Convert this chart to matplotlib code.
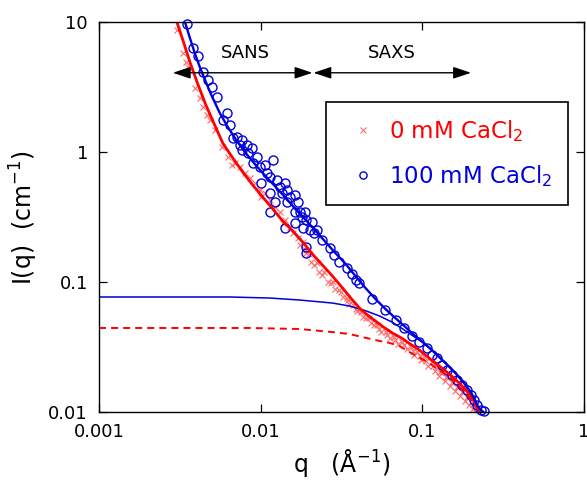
import numpy as np
import matplotlib.pyplot as plt
from matplotlib.ticker import FixedLocator, NullLocator

# --- measured data (read off the figure) ---
# 0 mM CaCl2, SANS range
q_red_sans = [3.03e-3, 3.30e-3, 3.44e-3, 3.54e-3, 3.91e-3, 4.20e-3, 4.39e-3, 4.64e-3,
              4.84e-3, 5.20e-3, 5.74e-3, 6.25e-3, 6.62e-3, 6.91e-3, 7.42e-3, 7.96e-3,
              8.55e-3, 9.18e-3, 9.86e-3, 1.01e-2, 1.06e-2, 1.14e-2, 1.22e-2, 1.31e-2,
              1.37e-2, 1.41e-2, 1.51e-2, 1.58e-2, 1.69e-2, 1.74e-2, 1.82e-2, 1.92e-2]
I_red_sans = [8.67, 5.78, 4.92, 4.51, 3.11, 2.60, 2.22, 1.93,
              1.76, 1.48, 1.09, 0.915, 0.794, 0.823, 0.767, 0.689,
              0.631, 0.578, 0.510, 0.451, 0.484, 0.428, 0.378, 0.345,
              0.284, 0.300, 0.265, 0.238, 0.218, 0.193, 0.203, 0.176]

# 0 mM CaCl2, SAXS range
q_red_saxs = [1.92e-2, 1.98e-2, 2.04e-2, 2.15e-2, 2.22e-2, 2.28e-2, 2.41e-2, 2.48e-2,
              2.59e-2, 2.74e-2, 2.82e-2, 2.90e-2, 3.07e-2, 3.16e-2, 3.25e-2, 3.40e-2,
              3.49e-2, 3.54e-2, 3.70e-2, 3.86e-2, 3.97e-2, 4.20e-2, 4.32e-2, 4.45e-2,
              4.71e-2, 4.84e-2, 4.99e-2, 5.27e-2, 5.43e-2, 5.58e-2, 6.00e-2, 6.08e-2,
              6.34e-2, 6.71e-2, 6.81e-2, 7.11e-2, 7.53e-2, 7.74e-2, 8.07e-2, 8.55e-2,
              8.80e-2, 8.93e-2, 9.31e-2, 9.72e-2, 9.86e-2, 0.103, 0.106, 0.109,
              0.114, 0.117, 0.119, 0.124, 0.127, 0.129, 0.133, 0.139,
              0.141, 0.143, 0.149, 0.153, 0.155, 0.160, 0.164, 0.167,
              0.172, 0.177, 0.179, 0.184, 0.190, 0.192, 0.195, 0.200,
              0.206, 0.207, 0.209, 0.215, 0.219]
I_red_saxs = [0.167, 0.164, 0.143, 0.135, 0.140, 0.119, 0.113, 0.119,
              0.100, 0.0983, 0.100, 0.0883, 0.0867, 0.0838, 0.0767, 0.0753,
              0.0727, 0.0678, 0.0665, 0.0620, 0.0598, 0.0588, 0.0538, 0.0528,
              0.0528, 0.0484, 0.0467, 0.0467, 0.0435, 0.0412, 0.0412, 0.0391,
              0.0371, 0.0378, 0.0358, 0.0333, 0.0345, 0.0328, 0.0305, 0.0316,
              0.0295, 0.0274, 0.0290, 0.0270, 0.0251, 0.0265, 0.0247, 0.0226,
              0.0243, 0.0226, 0.0207, 0.0222, 0.0189, 0.0203, 0.0203, 0.0173,
              0.0186, 0.0186, 0.0158, 0.0170, 0.0167, 0.0145, 0.0156, 0.0156,
              0.0133, 0.0143, 0.0143, 0.0122, 0.0130, 0.0128, 0.0113, 0.0119,
              0.0115, 0.0105, 0.0109, 0.0105, 0.0102]

# 100 mM CaCl2, SANS range
q_blue_sans = [3.49e-3, 3.80e-3, 4.08e-3, 4.39e-3, 4.71e-3, 4.99e-3, 5.35e-3, 6.17e-3,
               5.82e-3, 6.44e-3, 6.72e-3, 7.11e-3, 7.42e-3, 7.63e-3, 8.20e-3, 7.63e-3,
               8.31e-3, 8.80e-3, 9.45e-3, 8.93e-3, 9.86e-3, 1.06e-2, 1.09e-2, 1.19e-2,
               1.14e-2, 1.01e-2, 1.26e-2, 1.31e-2, 1.41e-2, 1.14e-2, 1.35e-2, 1.45e-2,
               1.51e-2, 1.62e-2, 1.22e-2, 1.45e-2, 1.69e-2, 1.74e-2, 1.62e-2, 1.87e-2,
               1.79e-2, 1.62e-2, 1.92e-2, 2.07e-2, 1.82e-2, 2.01e-2, 2.22e-2, 1.41e-2,
               1.14e-2, 1.92e-2, 1.92e-2, 2.15e-2]
I_blue_sans = [9.66, 6.31, 5.47, 4.12, 3.58, 3.16, 2.65, 2.00,
               1.76, 1.61, 1.28, 1.30, 1.13, 1.24, 1.13, 1.04,
               0.98, 1.07, 0.915, 0.823, 0.767, 0.794, 0.689, 0.868,
               0.643, 0.578, 0.609, 0.538, 0.578, 0.484, 0.484, 0.510,
               0.451, 0.467, 0.412, 0.412, 0.412, 0.345, 0.345, 0.345,
               0.316, 0.284, 0.300, 0.290, 0.260, 0.251, 0.251, 0.260,
               0.345, 0.186, 0.167, 0.238]

# 100 mM CaCl2, SAXS range
q_blue_saxs = [2.41e-2, 2.67e-2, 2.86e-2, 3.07e-2, 3.40e-2, 3.65e-2, 3.91e-2, 4.08e-2,
               4.91e-2, 5.91e-2, 6.92e-2, 7.74e-2, 8.67e-2, 9.57e-2, 0.107, 0.115,
               0.124, 0.133, 0.143, 0.153, 0.164, 0.177, 0.190, 0.200,
               0.209, 0.219, 0.231, 0.240]
I_blue_saxs = [0.210, 0.183, 0.161, 0.143, 0.128, 0.115, 0.104, 0.0983,
               0.0740, 0.0609, 0.0510, 0.0443, 0.0385, 0.0345, 0.0310, 0.0274,
               0.0260, 0.0230, 0.0210, 0.0193, 0.0176, 0.0161, 0.0148, 0.0135,
               0.0124, 0.0113, 0.0104, 0.0101]

# --- model curves ---
q_fit_red = [3.03e-3, 3.30e-3, 3.65e-3, 4.08e-3, 4.58e-3, 5.13e-3, 5.83e-3, 6.72e-3,
             7.74e-3, 8.93e-3, 1.03e-2, 1.19e-2, 1.37e-2, 1.58e-2, 1.82e-2, 2.09e-2,
             2.41e-2, 2.78e-2, 3.21e-2, 3.65e-2, 4.08e-2, 4.58e-2, 5.13e-2, 5.74e-2,
             6.53e-2, 7.42e-2, 8.43e-2, 9.58e-2, 0.110, 0.127, 0.147, 0.169,
             0.190, 0.209, 0.228]
I_fit_red = [10.0, 7.27, 4.92, 3.34, 2.30, 1.67, 1.17, 0.899,
             0.702, 0.557, 0.450, 0.364, 0.294, 0.247, 0.203, 0.164,
             0.135, 0.111, 0.0899, 0.0740, 0.0631, 0.0557, 0.0501, 0.0451,
             0.0405, 0.0371, 0.0333, 0.0300, 0.0260, 0.0226, 0.0196, 0.0167,
             0.0143, 0.0122, 0.0100]

q_fit_blue = [3.40e-3, 3.65e-3, 3.91e-3, 4.20e-3, 4.58e-3, 4.98e-3, 5.58e-3, 6.26e-3,
              7.11e-3, 8.08e-3, 9.31e-3, 1.07e-2, 1.24e-2, 1.43e-2, 1.64e-2, 1.90e-2,
              2.19e-2, 2.52e-2, 2.90e-2, 3.35e-2, 3.86e-2, 4.45e-2, 5.13e-2, 5.91e-2,
              6.81e-2, 7.85e-2, 9.05e-2, 0.104, 0.120, 0.139, 0.160, 0.179,
              0.201, 0.222, 0.238]
I_fit_blue = [10.0, 7.53, 5.77, 4.51, 3.46, 2.70, 2.00, 1.56,
              1.22, 0.982, 0.794, 0.654, 0.538, 0.443, 0.364, 0.300,
              0.247, 0.203, 0.167, 0.138, 0.111, 0.0899, 0.0740, 0.0620,
              0.0528, 0.0451, 0.0384, 0.0333, 0.0284, 0.0238, 0.0200, 0.0170,
              0.0140, 0.0109, 0.0100]

q_form_blue = [1e-3, 6.44e-3, 1.14e-2, 1.74e-2, 2.78e-2, 3.54e-2, 4.51e-2, 5.43e-2,
               6.53e-2, 7.53e-2, 8.67e-2, 0.104, 0.120, 0.139, 0.160, 0.179,
               0.201, 0.222, 0.238]
I_form_blue = [0.0767, 0.0767, 0.0753, 0.0727, 0.0689, 0.0654, 0.0598, 0.0548,
               0.0490, 0.0437, 0.0388, 0.0333, 0.0284, 0.0238, 0.0200, 0.0170,
               0.0140, 0.0109, 0.0100]

q_form_red = [1e-3, 8.55e-3, 1.74e-2, 2.78e-2, 3.54e-2, 4.51e-2, 5.43e-2, 6.26e-2,
              7.21e-2, 8.32e-2, 0.110, 0.147, 0.182, 0.228]
I_form_red = [0.0443, 0.0443, 0.0435, 0.0412, 0.0398, 0.0371, 0.0352, 0.0340,
              0.0322, 0.0289, 0.0238, 0.0186, 0.0143, 0.0100]

RED = '#ff0000'
PINK = '#ff6a6a'
BLUE = '#0000dd'

fig = plt.figure(figsize=(5.87, 4.82), dpi=100)
ax = fig.add_axes([0.1687, 0.1452, 0.8262, 0.8091])

ax.plot(q_red_sans + q_red_saxs, I_red_sans + I_red_saxs, 'x', color=PINK,
        markersize=5, markeredgewidth=0.8, label='0 mM CaCl$_2$')
ax.plot(q_blue_sans + q_blue_saxs, I_blue_sans + I_blue_saxs, 'o', mfc='none',
        mec=BLUE, markersize=6.5, markeredgewidth=1.0, clip_on=False,
        label='100 mM CaCl$_2$')

ax.plot(q_form_red, I_form_red, color=RED, lw=1.4, linestyle=(0, (3.6, 2.6)))
ax.plot(q_form_blue, I_form_blue, color=BLUE, lw=1.1)
ax.plot(q_fit_red, I_fit_red, color=RED, lw=2.0)
ax.plot(q_fit_blue, I_fit_blue, color=BLUE, lw=1.7)

ax.set_xscale('log')
ax.set_yscale('log')
ax.set_xlim(1e-3, 1)
ax.set_ylim(0.01, 10)

ax.xaxis.set_major_locator(FixedLocator([1e-3, 1e-2, 1e-1, 1]))
ax.yaxis.set_major_locator(FixedLocator([1e-2, 1e-1, 1, 10]))
ax.xaxis.set_minor_locator(NullLocator())
ax.yaxis.set_minor_locator(NullLocator())
ax.set_xticklabels(['0.001', '0.01', '0.1', '1'])
ax.set_yticklabels(['0.01', '0.1', '1', '10'])
ax.tick_params(direction='in', top=True, right=True, length=6, width=0.9,
               labelsize=13, pad=8)
for s in ax.spines.values():
    s.set_linewidth(1.0)

ax.set_xlabel('q   (Å$^{-1}$)', fontsize=17, labelpad=4)
ax.set_ylabel('I(q)  (cm$^{-1}$)', fontsize=17, labelpad=6)

# SANS / SAXS ranges
arrow = dict(arrowstyle='<|-|>,head_length=0.6,head_width=0.2', color='black',
             lw=1.0, mutation_scale=18, shrinkA=0, shrinkB=0)
ax.annotate('', xy=(2.09e-2, 4.07), xytext=(2.86e-3, 4.07), arrowprops=arrow)
ax.annotate('', xy=(0.200, 4.07), xytext=(2.12e-2, 4.07), arrowprops=arrow)
ax.text(8.07e-3, 5.78, 'SANS', ha='center', va='center', fontsize=13)
ax.text(6.44e-2, 5.78, 'SAXS', ha='center', va='center', fontsize=13)

leg = ax.legend(loc='upper left', bbox_to_anchor=(0.468, 0.795), fontsize=16.5,
                fancybox=False, edgecolor='black', framealpha=1, borderpad=0.7,
                handlelength=1.8, handletextpad=0.25, labelspacing=0.85,
                borderaxespad=0, markerscale=0.8)
leg.get_frame().set_linewidth(1.2)
for t, c in zip(leg.get_texts(), [RED, BLUE]):
    t.set_color(c)

fig.savefig('out.png', dpi=100)
